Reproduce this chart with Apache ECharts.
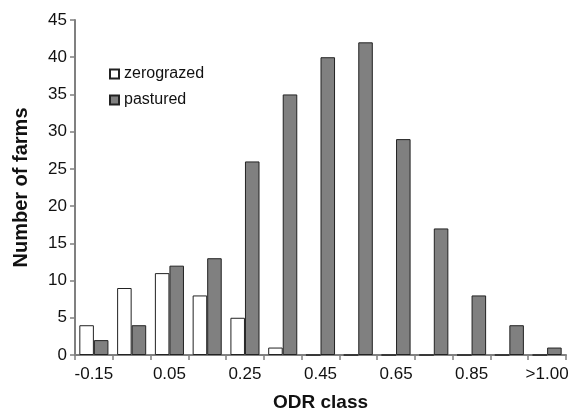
<!DOCTYPE html>
<html><head><meta charset="utf-8">
<script src="https://cdn.jsdelivr.net/npm/echarts@6/dist/echarts.min.js"></script>
<style>html,body{margin:0;padding:0;background:#fff}#c{width:575px;height:417px}</style>
</head><body><div id="c"></div>
<script>
const categories = ['-0.15','-0.05','0.05','0.15','0.25','0.35','0.45','0.55','0.65','0.75','0.85','0.95','>1.00'];
const zerograzed = [4, 9, 11, 8, 5, 1, 0, 0, 0, 0, 0, 0, 0];
const pastured = [2, 4, 12, 13, 26, 35, 40, 42, 29, 17, 8, 4, 1];
const yTicks = [0, 5, 10, 15, 20, 25, 30, 35, 40, 45];

const chart = echarts.init(document.getElementById('c'));
const font = 'Liberation Sans, Arial, sans-serif';
chart.setOption({
  animation: false,
  grid: {left: 75, right: 9, top: 20, bottom: 59},
  legend: {
    left: 104, top: 61, orient: 'vertical', icon: 'rect', itemWidth: 9, itemHeight: 9, itemGap: 10,
    textStyle: {fontFamily: font, fontSize: 16, color: '#111'},
    data: ['zerograzed', 'pastured']
  },
  xAxis: {
    type: 'category', data: categories,
    name: 'ODR class', nameLocation: 'middle', nameGap: 38,
    nameTextStyle: {fontFamily: font, fontSize: 19, fontWeight: 'bold', color: '#111'},
    axisLine: {lineStyle: {color: '#808080', width: 2}},
    axisTick: {show: true, interval: 0, length: 5, lineStyle: {color: '#808080', width: 1.5}},
    axisLabel: {interval: 1, fontFamily: font, fontSize: 17, color: '#111', margin: 11}
  },
  yAxis: {
    type: 'value', min: yTicks[0], max: yTicks[yTicks.length - 1], interval: 5,
    name: 'Number of farms', nameLocation: 'middle', nameGap: 44,
    nameTextStyle: {fontFamily: font, fontSize: 20, fontWeight: 'bold', color: '#111'},
    axisLine: {show: true, lineStyle: {color: '#808080', width: 2}},
    axisTick: {show: true, length: 5, lineStyle: {color: '#808080', width: 1.5}},
    splitLine: {show: false},
    axisLabel: {fontFamily: font, fontSize: 17, color: '#111', margin: 8}
  },
  series: [
    {name: 'zerograzed', type: 'bar', data: zerograzed, barGap: '0%', barCategoryGap: '23%',
     itemStyle: {color: '#ffffff', borderColor: '#222', borderWidth: 1}},
    {name: 'pastured', type: 'bar', data: pastured,
     itemStyle: {color: '#808080', borderColor: '#222', borderWidth: 1}}
  ]
});
</script></body></html>
